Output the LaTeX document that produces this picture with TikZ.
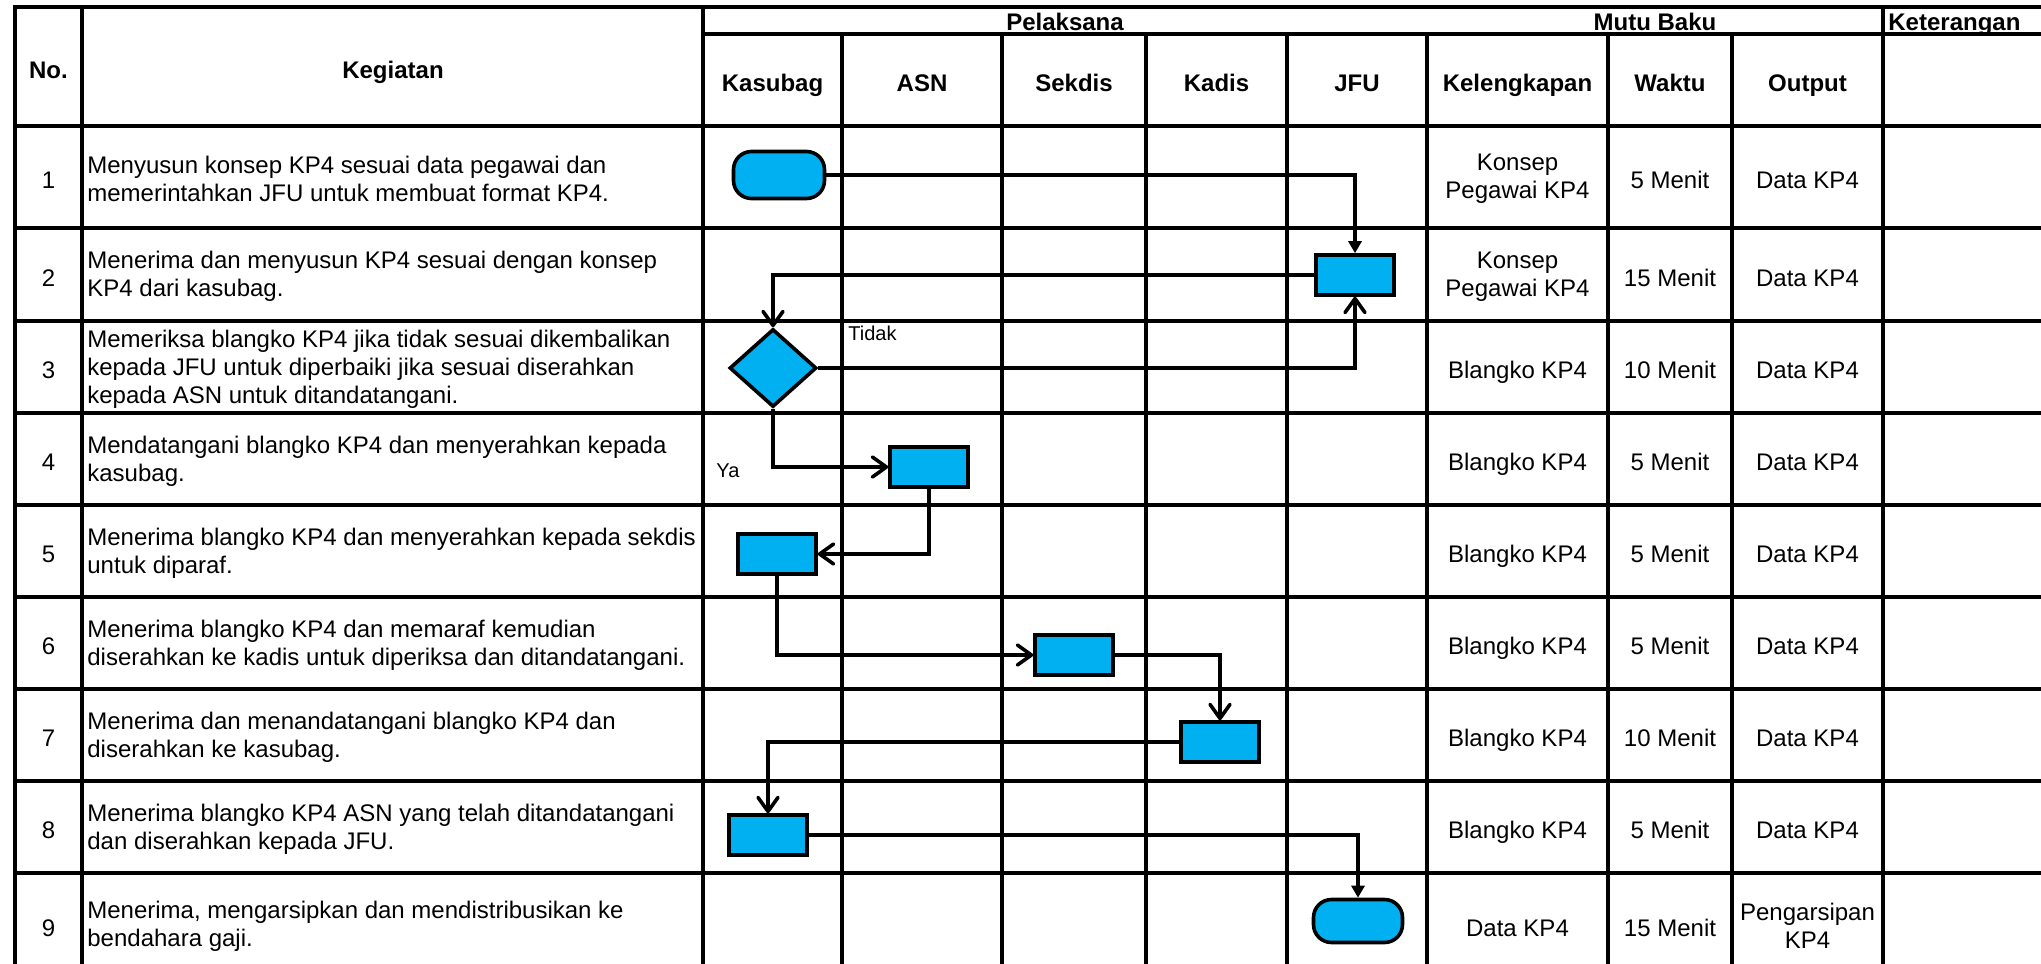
\documentclass[tikz,border=0pt]{standalone}
\usepackage{fontspec}
\setmainfont{Liberation Sans}
\usetikzlibrary{shapes.geometric,arrows.meta}
\definecolor{flowblue}{RGB}{0,176,240}
\begin{document}
\begin{tikzpicture}[x=0.5pt,y=-0.5pt,
  tablegrid/.style={line width=2pt,line cap=rect},
  hdr/.style={font=\bfseries\fontsize{12pt}{14pt}\selectfont, inner sep=0pt, anchor=base},
  cell/.style={font=\fontsize{12pt}{14pt}\selectfont, inner sep=0pt, anchor=base},
  mcell/.style={font=\fontsize{12pt}{14pt}\selectfont, inner sep=0pt, align=center},
  act/.style={font=\fontsize{12pt}{14pt}\selectfont, inner sep=0pt, align=left, anchor=west},
  lbl/.style={font=\fontsize{10pt}{12pt}\selectfont, inner sep=0pt, anchor=base west},
  procbox/.style={draw, line width=1.8pt, fill=flowblue, minimum width=39pt, minimum height=20pt, inner sep=0pt},
  termbox/.style={draw, line width=1.8pt, fill=flowblue, rounded corners=9pt, minimum width=45.5pt, minimum height=23.5pt, inner sep=0pt},
  decbox/.style={draw, line width=1.8pt, fill=flowblue, diamond, minimum width=43.5pt, minimum height=39pt, inner sep=0pt},
  flow/.style={line width=1.8pt, -{Straight Barb[length=7pt,width=10pt,round]}},
  flowfill/.style={line width=1.8pt, -{Triangle[length=6pt,width=6.5pt]}}
]
\useasboundingbox (0,0) rectangle (2041,964);
\clip (0,0) rectangle (2041,964);

% table grid
\draw[tablegrid] (15,7) -- (2060,7);
\draw[tablegrid] (703,34) -- (2060,34);
\foreach \y in {126,228,321,413,505,597,689,781,873}
  \draw[tablegrid] (15,\y) -- (2060,\y);
\foreach \x in {15,82,703,1883}
  \draw[tablegrid] (\x,7) -- (\x,980);
\foreach \x in {842,1002,1146,1287,1427,1608,1732}
  \draw[tablegrid] (\x,34) -- (\x,980);

% headers (baselines)
\node[hdr] (hno) at (48.5,78) {No.};
\node[hdr] (hkeg) at (393,78) {Kegiatan};
\node[hdr] (hpel) at (1065,30) {Pelaksana};
\node[hdr] (hmutu) at (1655,30) {Mutu Baku};
\node[hdr, anchor=base west] (hket) at (1888,30) {Keterangan};
\node[hdr] (hkasubag) at (772.5,91) {Kasubag};
\node[hdr] (hasn) at (922,91) {ASN};
\node[hdr] (hsekdis) at (1074,91) {Sekdis};
\node[hdr] (hkadis) at (1216.5,91) {Kadis};
\node[hdr] (hjfu) at (1357,91) {JFU};
\node[hdr] (hkel) at (1517.5,91) {Kelengkapan};
\node[hdr] (hwaktu) at (1670,91) {Waktu};
\node[hdr] (hout) at (1807.5,91) {Output};

% row numbers, waktu (baselines = text centre + 8.6)
\foreach \i/\y/\w in {1/188.6/5,2/286/15,3/378.6/10,4/470.6/5,5/562.6/5,6/654.6/5,7/746.6/10,8/838.6/5,9/936.6/15}{
  \node[cell] (no\i) at (48.5,\y) {\i};
  \node[cell] (wk\i) at (1670,\y) {\w\ Menit};
}
\foreach \i/\y in {1/188.6,2/286,3/378.6,4/470.6,5/562.6,6/654.6,7/746.6,8/838.6}
  \node[cell] (out\i) at (1807.5,\y) {Data KP4};
\node[mcell] (out9) at (1807.5,926) {Pengarsipan\\KP4};

% kelengkapan
\node[mcell] (kel1) at (1517.5,179) {Konsep\\Pegawai KP4};
\node[mcell] (kel2) at (1517.5,276.5) {Konsep\\Pegawai KP4};
\foreach \i/\y in {3/378.6,4/470.6,5/562.6,6/654.6,7/746.6,8/838.6}
  \node[cell] (kel\i) at (1517.5,\y) {Blangko KP4};
\node[cell] (kel9) at (1517.5,936.6) {Data KP4};

% kegiatan
\node[act] (k1) at (87,179) {Menyusun konsep KP4 sesuai data pegawai dan\\memerintahkan JFU untuk membuat format KP4.};
\node[act] (k2) at (87,276.5) {Menerima dan menyusun KP4 sesuai dengan konsep\\KP4 dari kasubag.};
\node[act] (k3) at (87,369) {Memeriksa blangko KP4 jika tidak sesuai dikembalikan\\kepada JFU untuk diperbaiki jika sesuai diserahkan\\kepada ASN untuk ditandatangani.};
\node[act] (k4) at (87,461) {Mendatangani blangko KP4 dan menyerahkan kepada\\kasubag.};
\node[act] (k5) at (87,553) {Menerima blangko KP4 dan menyerahkan kepada sekdis\\untuk diparaf.};
\node[act] (k6) at (87,645) {Menerima blangko KP4 dan memaraf kemudian\\diserahkan ke kadis untuk diperiksa dan ditandatangani.};
\node[act] (k7) at (87,737) {Menerima dan menandatangani blangko KP4 dan\\diserahkan ke kasubag.};
\node[act] (k8) at (87,829) {Menerima blangko KP4 ASN yang telah ditandatangani\\dan diserahkan kepada JFU.};
\node[act] (k9) at (87,926) {Menerima, mengarsipkan dan mendistribusikan ke\\bendahara gaji.};

% flow shapes
\node[termbox] (t1) at (779,175) {};
\node[procbox] (b2) at (1355,275) {};
\node[decbox] (d3) at (773,368) {};
\node[procbox] (b4) at (929,467) {};
\node[procbox] (b5) at (777,554) {};
\node[procbox] (b6) at (1074,655) {};
\node[procbox] (b7) at (1220,742) {};
\node[procbox] (b8) at (768,835) {};
\node[termbox, minimum width=44.5pt, minimum height=21.5pt] (t9) at (1358,921) {};

% labels
\node[lbl] (ltidak) at (848,340) {Tidak};
\node[lbl] (lya) at (716,477) {Ya};

% connectors
\draw[flowfill] (t1) -| (b2);
\draw[flow] (b2) -| (d3);
\draw[flow] (d3) -| (b2);
\draw[flow] (d3) |- (b4);
\draw[flow] (b4) |- (b5);
\draw[flow] (b5) |- (b6);
\draw[flow] (b6) -| (b7);
\draw[flow] (b7) -| (b8);
\draw[flowfill] (b8) -| (t9);
\end{tikzpicture}
\end{document}
